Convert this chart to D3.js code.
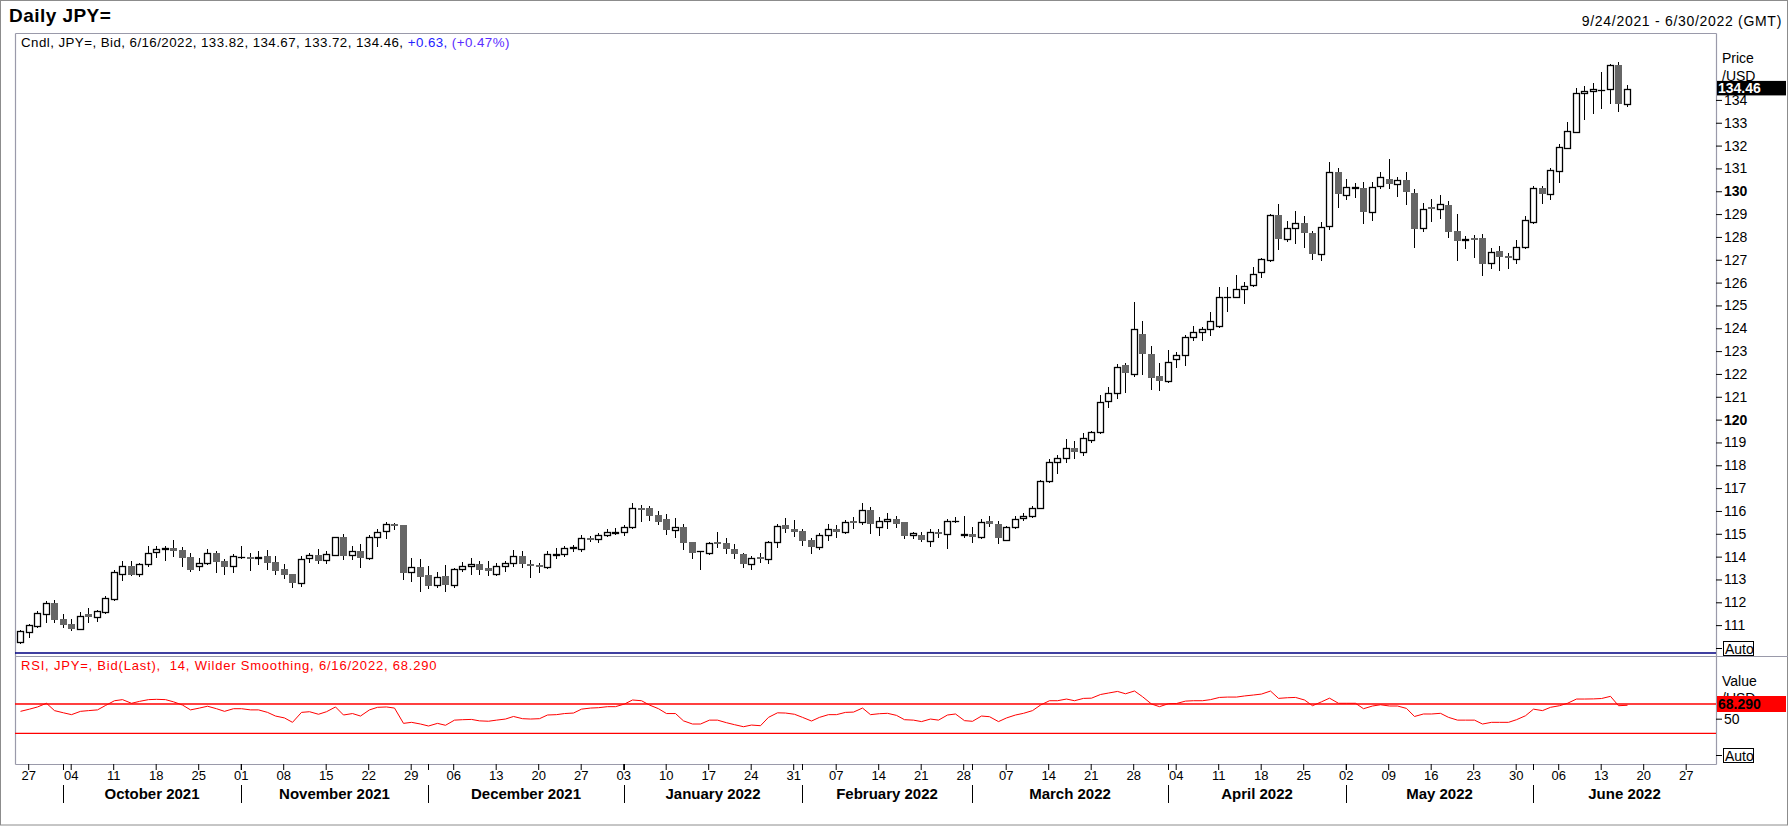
<!DOCTYPE html>
<html>
<head>
<meta charset="utf-8">
<script src="https://cdn.jsdelivr.net/npm/d3@7"></script>
<style>
body { margin: 0; background: #fff; }
svg text { font-family: "Liberation Sans", Arial, sans-serif; }
</style>
</head>
<body>
<div id="chart"></div>
<script>
// chart data
const startDate = "2021-09-24", endDate = "2022-06-30";

const opens = [110.27,110.68,110.97,111.47,111.95,111.25,111.04,110.84,111.48,111.37,
111.59,112.15,113.26,113.61,113.25,113.66,114.21,114.34,114.37,114.27,
113.98,113.57,113.70,114.15,113.80,113.57,113.98,114.00,113.95,114.02,
113.76,113.45,113.23,112.83,113.92,114.07,113.86,114.08,114.86,114.05,
114.24,113.96,114.88,115.12,115.41,115.38,113.34,113.53,113.19,112.74,
113.15,112.75,113.44,113.57,113.67,113.50,113.26,113.57,113.70,114.01,
113.68,113.63,113.54,114.08,114.10,114.38,114.34,114.83,114.78,114.93,
115.05,115.09,115.31,116.15,116.13,115.82,115.64,115.16,115.29,114.65,
114.23,114.18,114.64,114.59,114.35,114.11,113.66,113.98,113.88,114.62,
115.38,115.21,115.13,114.72,114.43,114.94,115.21,115.06,115.56,115.50,
116.04,115.28,115.54,115.64,115.53,114.93,114.94,114.69,115.09,114.97,
115.55,114.96,114.99,114.87,115.56,115.45,114.75,115.28,115.67,115.80,
116.11,117.33,118.16,118.30,118.74,118.60,119.11,119.47,120.82,121.15,
122.39,121.98,123.74,122.88,121.91,121.69,122.64,122.83,123.63,123.82,
123.95,124.10,125.35,125.36,125.72,125.90,126.45,127.00,128.96,127.90,
128.41,128.63,128.19,127.24,128.48,130.86,129.84,130.13,130.15,129.07,
130.23,130.53,130.31,130.50,129.94,128.38,129.30,129.21,129.40,128.26,
127.87,127.94,127.94,126.85,127.39,127.17,127.05,127.58,128.64,130.13,
129.87,130.89,131.88,132.58,134.29,134.39,134.43,134.47,135.53,133.82];

const highs = [110.78,111.05,111.64,112.05,112.10,111.48,111.29,111.56,111.77,111.66,
112.26,113.40,113.80,113.80,113.70,114.46,114.45,114.46,114.72,114.40,
114.18,113.92,114.32,114.24,113.89,114.10,114.46,114.18,114.24,114.29,
114.02,113.67,113.26,114.01,114.17,114.33,114.24,114.87,114.98,114.45,
114.55,114.93,115.22,115.50,115.47,115.38,113.96,113.89,113.61,113.31,
113.63,113.51,113.75,113.96,113.80,113.80,113.70,113.82,114.29,114.26,
113.85,113.70,114.24,114.37,114.46,114.49,114.93,114.91,115.03,115.19,
115.25,115.37,116.34,116.26,116.21,116.02,115.86,115.67,115.45,114.65,
114.25,114.65,115.07,114.80,114.55,114.15,114.02,114.14,114.70,115.45,
115.67,115.60,115.19,114.80,115.02,115.42,115.38,115.60,115.72,116.34,
116.18,115.75,115.89,115.78,115.53,115.10,115.09,115.19,115.23,115.63,
115.75,115.78,115.28,115.63,115.80,115.56,115.34,115.78,115.92,116.21,
117.36,118.26,118.45,119.15,119.06,119.40,119.51,121.08,121.42,122.44,
122.47,125.17,124.32,123.23,122.50,123.05,122.95,123.72,124.10,124.07,
124.73,125.81,125.81,126.34,126.04,126.70,127.06,129.01,129.45,128.70,
129.14,128.92,128.28,128.67,131.28,131.04,130.54,130.38,130.42,130.42,
130.83,131.42,130.64,130.83,130.09,129.47,129.66,129.83,129.56,129.01,
128.04,128.08,128.12,127.50,127.61,127.28,127.87,128.92,130.25,130.25,
131.04,132.07,133.05,134.51,134.61,134.73,135.24,135.56,135.65,134.67];

const lows = [110.22,110.49,110.90,111.15,111.15,110.90,110.78,110.83,111.15,111.19,
111.51,112.11,112.98,113.19,113.15,113.59,113.99,113.86,114.04,113.60,
113.38,113.42,113.67,113.34,113.22,113.34,113.93,113.42,113.69,113.48,
113.26,113.05,112.68,112.72,113.77,113.72,113.73,114.07,113.89,113.88,
113.56,113.88,114.48,114.80,115.23,113.03,112.94,112.50,112.64,112.68,
112.50,112.68,113.37,113.26,113.23,113.19,113.19,113.38,113.60,113.53,
113.12,113.31,113.51,113.92,114.02,114.26,114.26,114.70,114.64,114.90,
114.97,114.93,115.26,115.56,115.60,115.45,114.99,114.87,114.33,113.95,
113.45,114.10,114.43,114.17,113.92,113.56,113.44,113.78,113.73,114.43,
115.09,114.91,114.50,114.14,114.32,114.72,114.87,115.02,115.26,115.45,
115.02,114.94,115.24,115.31,114.83,114.80,114.69,114.46,114.87,114.39,
115.53,114.84,114.65,114.80,115.34,114.61,114.72,115.24,115.60,115.75,
116.11,117.28,117.68,118.16,118.33,118.45,119.04,119.43,120.57,120.96,
121.20,121.93,121.98,121.33,121.30,121.66,122.29,122.39,123.49,123.49,
123.71,124.04,124.77,125.36,125.09,125.85,126.26,126.96,127.46,127.80,
127.75,127.55,127.04,127.00,128.34,129.33,129.65,129.74,128.63,128.74,
130.13,130.13,129.81,129.45,127.55,128.24,128.71,128.85,128.01,127.00,
127.50,127.14,126.34,126.66,126.55,126.66,126.87,127.53,128.61,129.50,
129.66,130.42,131.88,132.58,133.17,133.42,133.64,133.88,133.52,133.72];

const closes = [110.74,111.00,111.51,111.95,111.22,111.02,110.83,111.42,111.37,111.60,
112.21,113.31,113.61,113.21,113.66,114.18,114.32,114.36,114.26,113.95,
113.41,113.70,114.14,113.77,113.56,114.01,114.00,113.98,113.97,113.73,
113.38,113.21,112.83,113.88,114.07,113.82,114.10,114.86,114.02,114.24,
113.95,114.86,115.10,115.41,115.35,113.29,113.53,113.12,112.72,113.12,
112.75,113.44,113.57,113.66,113.42,113.38,113.57,113.70,114.01,113.67,
113.65,113.56,114.10,114.10,114.36,114.40,114.83,114.78,114.93,115.06,
115.07,115.31,116.15,116.10,115.79,115.53,115.16,115.31,114.61,114.17,
114.24,114.58,114.62,114.32,114.10,113.66,113.92,113.88,114.62,115.32,
115.23,115.10,114.70,114.43,114.94,115.19,115.09,115.53,115.50,116.04,
115.41,115.56,115.63,115.42,114.91,115.02,114.72,115.06,114.97,115.56,
115.57,114.98,114.87,115.50,115.45,114.80,115.28,115.66,115.80,116.11,
117.31,118.16,118.30,118.74,118.60,119.18,119.47,120.79,121.15,122.32,
122.06,123.95,122.86,121.81,121.69,122.51,122.83,123.62,123.82,123.95,
124.33,125.36,125.37,125.71,125.87,126.36,127.04,128.96,127.90,128.41,
128.60,128.16,127.24,128.45,130.86,129.87,130.17,130.19,129.11,130.17,
130.61,130.31,130.48,129.98,128.34,129.21,129.21,129.43,128.23,127.84,
127.89,127.88,126.83,127.33,127.14,127.15,127.58,128.73,130.13,129.87,
130.93,131.93,132.64,134.29,134.39,134.47,134.44,135.53,133.83,134.46];

const rsiValues = [60,63,66,71,61,58,55.5,60,61,62,
68,74.5,76,71,73.6,76,76.4,76,73,68.6,
62,64.5,67,63.6,60,63.6,63.6,62,62,58.6,
53.6,51,45,58.6,59.5,56,59.5,66,55,57,
53.6,62,65.5,66,64.5,43.6,45,42.7,40,43.6,
41,48,48.6,49,47,46.5,48,49.5,53,50,
49.5,50,55,55.5,57,57.7,63,64.5,65,66.4,
66.4,70,75.5,74.5,68.6,63.6,57,57,47,42.7,
42.7,48,48,44.5,41.8,39,41.3,40.4,51.8,58,
57.7,56,51.8,46.8,51.8,55.5,55.5,58.6,59,64.5,
55.5,56.8,57.3,54.5,48.6,48,46,49.5,48,55,
56.4,47.3,46.4,53.6,52.7,46,51,55,57.3,61,
68.6,74.5,74.5,76.8,74.5,77.7,78,83,85,87.2,
84,87.8,80,70,66.4,70.5,70.7,74,74.5,74.5,
76,79,79.5,79.5,81,82.3,83.6,87.7,77.7,78.6,
79,75.5,67.7,73,78,71,71,71,63.6,67.3,
69,67.3,67.3,64,53,56.4,56.4,57.3,51.8,48,
48,48,42.7,45,45,45,48.6,54,63,61,
65.5,67.7,71,76.8,76.8,77,77.5,80.5,67.7,68.29];

const priceTicks = d3.range(111, 135);
const boldTicks = [120, 130];
const rsiTicks = [50];
const rsiLevels = [70, 30];
const monthNames = ["October 2021", "November 2021", "December 2021", "January 2022",
    "February 2022", "March 2022", "April 2022", "May 2022", "June 2022"];

// set dimensions
const width = 1788,
    height = 827,
    frame = { left: 15, right: 1716, top: 33, priceBottom: 653, rsiTop: 656, bottom: 764 };

const frameColor = "#9a9aaa";

// create svg
const svg = d3.select("#chart")
    .append("svg")
    .attr("width", width)
    .attr("height", height);

svg.append("rect")
    .attr("x", 0.5).attr("y", 0.5)
    .attr("width", width - 1).attr("height", height - 2.5)
    .attr("fill", "#fff")
    .attr("stroke", "#8c8c8c");

// trading days (weekdays) from start to end of the range
const parse = d3.timeParse("%Y-%m-%d");
const keyFormat = d3.timeFormat("%Y-%m-%d");
const days = d3.timeDay.range(parse(startDate), d3.timeDay.offset(parse(endDate), 1))
    .filter(d => d.getDay() % 6 !== 0);
const keys = days.map(keyFormat);

const candles = opens.map((o, i) => ({
    key: keys[i], date: days[i], o: o, h: highs[i], l: lows[i], c: closes[i], rsi: rsiValues[i]
}));
const last = candles[candles.length - 1];
const prev = candles[candles.length - 2];

// scales
const x = d3.scaleBand()
    .domain(keys)
    .range([15.95, 1715.95]);
const cx = k => Math.round(x(k) + x.bandwidth() / 2);

const y = d3.scaleLinear()
    .domain([109.78, 136.93])
    .range([frame.priceBottom, frame.top]);

const yRsi = d3.scaleLinear()
    .domain([0, 100])
    .range([755.3, 682.05]);

// frame lines
const lines = [
    [frame.left, frame.top, frame.right, frame.top, frameColor],
    [frame.left, frame.top, frame.left, frame.bottom, frameColor],
    [frame.right, frame.top, frame.right, frame.bottom, frameColor],
    [frame.left, frame.bottom, frame.right, frame.bottom, frameColor],
    [frame.left, frame.rsiTop, width, frame.rsiTop, frameColor]
];
svg.selectAll(".frame")
    .data(lines)
    .enter()
    .append("line")
    .attr("class", "frame")
    .attr("x1", d => d[0] + 0.5).attr("y1", d => d[1] + 0.5)
    .attr("x2", d => d[2] + 0.5).attr("y2", d => d[3] + 0.5)
    .attr("stroke", d => d[4])
    .attr("stroke-width", 1.2);

svg.append("line")
    .attr("x1", frame.left).attr("x2", frame.right)
    .attr("y1", frame.priceBottom).attr("y2", frame.priceBottom)
    .attr("stroke", "#000080")
    .attr("stroke-width", 1.5);

// title and captions
svg.append("text")
    .attr("x", 9).attr("y", 22)
    .style("font-size", "19px")
    .style("font-weight", "bold")
    .style("letter-spacing", "0.45px")
    .text("Daily JPY=");

svg.append("text")
    .attr("x", 1782).attr("y", 26)
    .attr("text-anchor", "end")
    .style("font-size", "14px")
    .style("letter-spacing", "0.7px")
    .text(d3.timeFormat("%-m/%-d/%Y")(parse(startDate)) + " - " + d3.timeFormat("%-m/%-d/%Y")(parse(endDate)) + " (GMT)");

const dateFmt = d3.timeFormat("%-m/%-d/%Y");
const chg = last.c - prev.c;
const cap = svg.append("text")
    .attr("x", 21).attr("y", 47)
    .style("font-size", "13.3px")
    .style("letter-spacing", "0.45px");
cap.append("tspan")
    .text(`Cndl, JPY=, Bid, ${dateFmt(last.date)}, ${last.o.toFixed(2)}, ${last.h.toFixed(2)}, ${last.l.toFixed(2)}, ${last.c.toFixed(2)}, `);
cap.append("tspan")
    .attr("fill", "#2222ff")
    .text(d3.format("+.2f")(chg) + ", ");
cap.append("tspan")
    .attr("fill", "#5a2cff")
    .text("(" + d3.format("+.2f")(chg / prev.c * 100) + "%)");

svg.append("text")
    .attr("x", 21).attr("y", 670)
    .attr("fill", "#ff0000")
    .style("font-size", "13px")
    .style("letter-spacing", "0.8px")
    .style("white-space", "pre")
    .text(`RSI, JPY=, Bid(Last),  14, Wilder Smoothing, ${dateFmt(last.date)}, ${last.rsi.toFixed(3)}`);

// price axis
const yAxis = d3.axisRight(y)
    .tickValues(priceTicks)
    .tickSize(6)
    .tickPadding(2)
    .tickFormat(d3.format("d"));

const yAxisG = svg.append("g")
    .attr("transform", `translate(${frame.right},0)`)
    .call(yAxis);
yAxisG.select(".domain").remove();
yAxisG.selectAll("text")
    .style("font-size", "14px")
    .style("font-weight", d => boldTicks.includes(d) ? "bold" : "normal")
    .attr("fill", "#000");

svg.append("text").attr("x", 1722).attr("y", 63).style("font-size", "14px").text("Price");
svg.append("text").attr("x", 1722).attr("y", 81).style("font-size", "14px").text("/USD");

// last price box
svg.append("rect")
    .attr("x", 1717).attr("y", y(last.c) - 8.5)
    .attr("width", 69).attr("height", 14.5)
    .attr("fill", "#000");
svg.append("text")
    .attr("x", 1718).attr("y", y(last.c) + 4)
    .attr("fill", "#fff")
    .style("font-size", "14px")
    .style("font-weight", "bold")
    .text(last.c.toFixed(2));

// auto boxes
function autoBox(yy) {
    svg.append("line")
        .attr("x1", frame.right).attr("x2", frame.right + 6)
        .attr("y1", yy).attr("y2", yy)
        .attr("stroke", "#000");
    svg.append("rect")
        .attr("x", 1723.5).attr("y", yy - 7)
        .attr("width", 30).attr("height", 14)
        .attr("fill", "#fff")
        .attr("stroke", "#000");
    svg.append("text")
        .attr("x", 1725).attr("y", yy + 5)
        .style("font-size", "14px")
        .text("Auto");
}
autoBox(Math.round(y(110)) + 0.5);
autoBox(Math.round(yRsi(0)) + 0.5);

// rsi axis
const rAxisG = svg.append("g")
    .attr("transform", `translate(${frame.right},0)`)
    .call(d3.axisRight(yRsi).tickValues(rsiTicks).tickSize(6).tickPadding(2));
rAxisG.select(".domain").remove();
rAxisG.selectAll("text").style("font-size", "14px").attr("fill", "#000");

svg.append("text").attr("x", 1722).attr("y", 686).style("font-size", "14px").text("Value");
svg.append("text").attr("x", 1722).attr("y", 703).style("font-size", "14px").text("/USD");

// rsi level lines
svg.selectAll(".level")
    .data(rsiLevels)
    .enter()
    .append("line")
    .attr("class", "level")
    .attr("x1", frame.left).attr("x2", frame.right)
    .attr("y1", d => yRsi(d)).attr("y2", d => yRsi(d))
    .attr("stroke", "#ff0000")
    .attr("stroke-width", 1.4);

// rsi line
const rsiLine = d3.line()
    .x(d => cx(d.key) + 0.5)
    .y(d => yRsi(d.rsi));
svg.append("path")
    .datum(candles)
    .attr("d", rsiLine)
    .attr("fill", "none")
    .attr("stroke", "#ff0000")
    .attr("stroke-width", 1);

// last rsi box
svg.append("rect")
    .attr("x", 1717).attr("y", 696)
    .attr("width", 69).attr("height", 16)
    .attr("fill", "#ff0000");
svg.append("text")
    .attr("x", 1718).attr("y", 709)
    .style("font-size", "14px")
    .style("font-weight", "bold")
    .text(last.rsi.toFixed(3));

// candles
const cg = svg.append("g");
const candle = cg.selectAll("g")
    .data(candles)
    .enter()
    .append("g");

candle.append("line")
    .attr("x1", d => cx(d.key) + 0.5).attr("x2", d => cx(d.key) + 0.5)
    .attr("y1", d => Math.round(y(d.h)))
    .attr("y2", d => Math.round(y(d.l)) + 1)
    .attr("stroke", "#000")
    .attr("stroke-width", 1);

candle.append("rect")
    .attr("x", d => d.c >= d.o ? cx(d.key) - 2.5 : cx(d.key) - 3)
    .attr("y", d => d.c >= d.o ? Math.round(y(d.c)) + 0.5 : Math.round(y(d.o)))
    .attr("width", d => d.c >= d.o ? 6 : 7)
    .attr("height", d => {
        const hgt = Math.round(y(d.o)) - Math.round(y(d.c));
        return d.c >= d.o ? Math.max(hgt, 0.01) : Math.max(-hgt, 2);
    })
    .attr("fill", d => d.c >= d.o ? "#fff" : "#666")
    .attr("stroke", d => d.c >= d.o ? "#000" : "none")
    .attr("stroke-width", 1.3);

// x axis (mondays)
const mondays = days.filter(d => d.getDay() === 1);
const xAxis = d3.axisBottom(x)
    .tickValues(mondays.map(keyFormat))
    .tickSize(6)
    .tickPadding(1)
    .tickFormat(k => d3.timeFormat("%d")(parse(k)));

const xAxisG = svg.append("g")
    .attr("transform", `translate(0,${frame.bottom})`)
    .call(xAxis);
xAxisG.select(".domain").remove();
xAxisG.selectAll("text").style("font-size", "13px").attr("fill", "#000");

// month boundaries
const monthStarts = days.filter((d, i) => i > 0 && d.getMonth() !== days[i - 1].getMonth());
svg.selectAll(".mstart")
    .data(monthStarts)
    .enter()
    .append("line")
    .attr("class", "mstart")
    .attr("x1", d => cx(keyFormat(d)) + 0.5).attr("x2", d => cx(keyFormat(d)) + 0.5)
    .attr("y1", frame.bottom).attr("y2", frame.bottom + 6)
    .attr("stroke", "#000");
svg.selectAll(".msep")
    .data(monthStarts)
    .enter()
    .append("line")
    .attr("class", "msep")
    .attr("x1", d => cx(keyFormat(d)) + 0.5).attr("x2", d => cx(keyFormat(d)) + 0.5)
    .attr("y1", 785).attr("y2", 803)
    .attr("stroke", "#000");

svg.selectAll(".mlabel")
    .data(monthNames)
    .enter()
    .append("text")
    .attr("class", "mlabel")
    .attr("x", (d, i) => {
        const a = cx(keyFormat(monthStarts[i]));
        const b = i + 1 < monthStarts.length ? cx(keyFormat(monthStarts[i + 1])) : frame.right;
        return (a + b) / 2;
    })
    .attr("y", 799)
    .attr("text-anchor", "middle")
    .style("font-size", "15px")
    .style("font-weight", "bold")
    .text(d => d);
</script>
</body>
</html>
